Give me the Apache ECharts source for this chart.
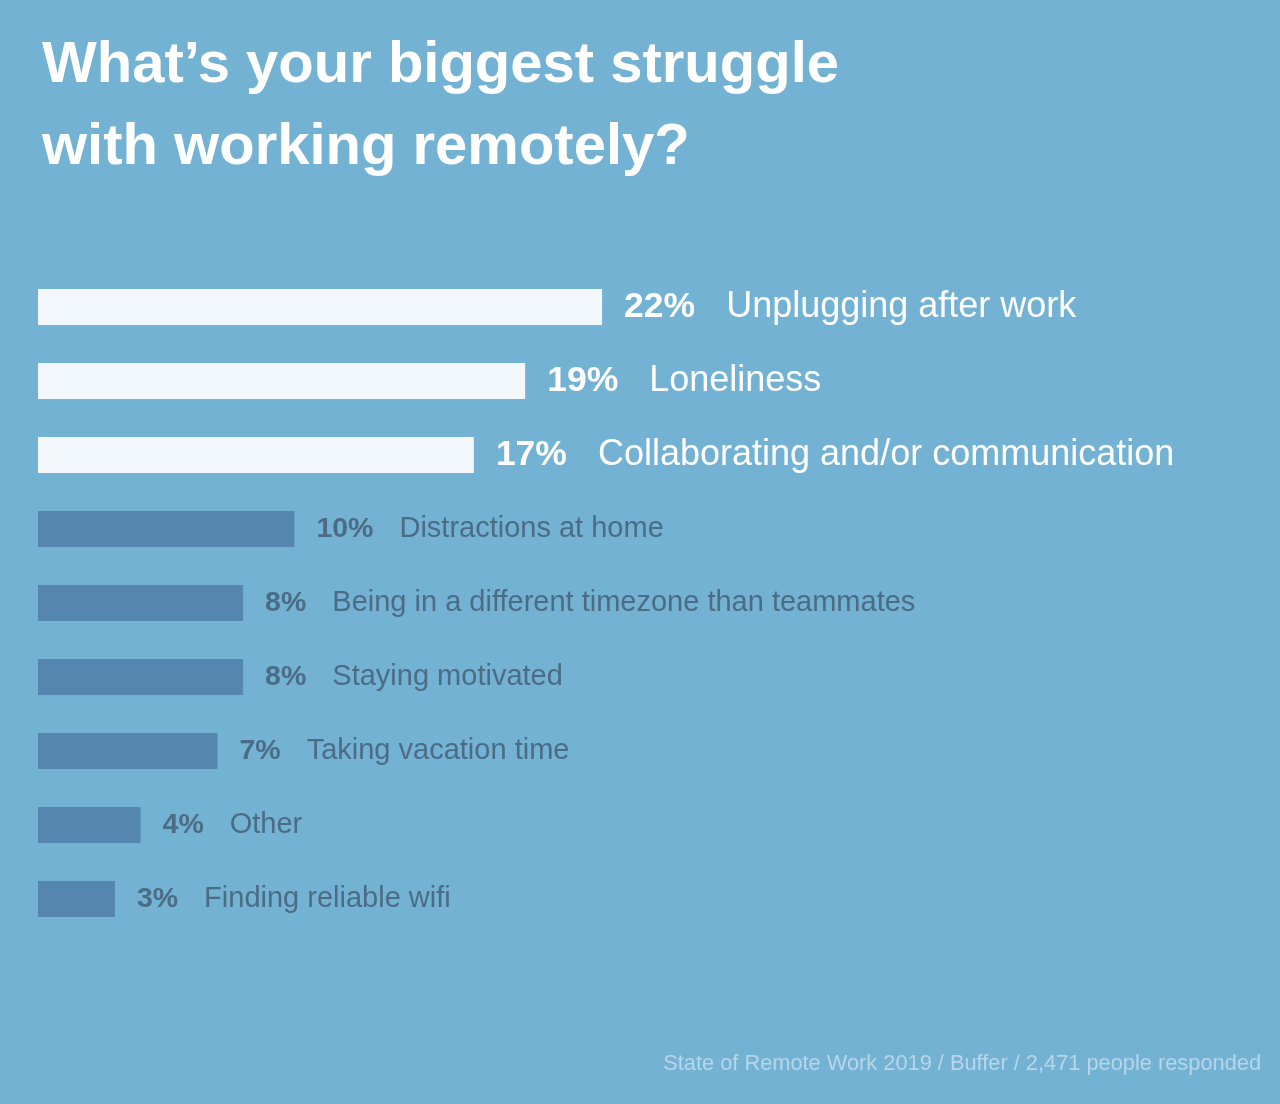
<!DOCTYPE html>
<html><head><meta charset="utf-8">
<script src="https://cdn.jsdelivr.net/npm/echarts@6/dist/echarts.min.js"></script>
<style>html,body{margin:0;padding:0;background:#74B2D3;}#c{width:1280px;height:1104px;}</style>
</head><body><div id="c"></div>
<script>
var categories = ["Unplugging after work","Loneliness","Collaborating and/or communication","Distractions at home","Being in a different timezone than teammates","Staying motivated","Taking vacation time","Other","Finding reliable wifi"];
var values = [22,19,17,10,8,8,7,4,3];
var highlighted = [true,true,true,false,false,false,false,false,false];

var F = '"Liberation Sans", Arial, Helvetica, sans-serif';
var data = values.map(function(v,i){
  var hi = highlighted[i];
  return {
    value: v,
    itemStyle: {color: hi ? '#F2F7FB' : '#5586AF'},
    label: {
      rich: {
        p: {fontFamily: F, fontWeight: 'bold', fontSize: hi ? 35.5 : 28.5, color: hi ? '#FFFFFF' : '#4B6C85'},
        n: {fontFamily: F, fontSize: hi ? 36 : 29, color: hi ? '#FFFFFF' : '#4B6C85', padding: [0,0,0, hi ? 31 : 26]}
      }
    }
  };
});

var chart = echarts.init(document.getElementById('c'), null, {renderer:'canvas'});
chart.setOption({
  backgroundColor: '#74B2D3',
  animation: false,
  title: [{
    text: "What\u2019s your biggest struggle\nwith working remotely?",
    left: 37, top: 20,
    textStyle: {fontFamily: F, fontWeight: 'bold', fontSize: 58, color: '#FFFFFF', lineHeight: 82}
  },{
    text: "State of Remote Work 2019 / Buffer / 2,471 people responded",
    right: 14, top: 1048,
    textStyle: {fontFamily: F, fontWeight: 'normal', fontSize: 21.8, color: '#B6D6E9'}
  }],
  grid: {left: 38, right: 216.4, top: 270, bottom: 168},
  xAxis: {type: 'value', min: 0, max: 40, show: false},
  yAxis: {type: 'category', data: categories, inverse: true, show: false},
  series: [{
    type: 'bar',
    data: data,
    barWidth: 36,
    label: {
      show: true, position: 'right', distance: 22,
      formatter: function(p){ return '{p|' + p.value + '%}{n|' + p.name + '}'; }
    }
  }]
});
</script></body></html>
